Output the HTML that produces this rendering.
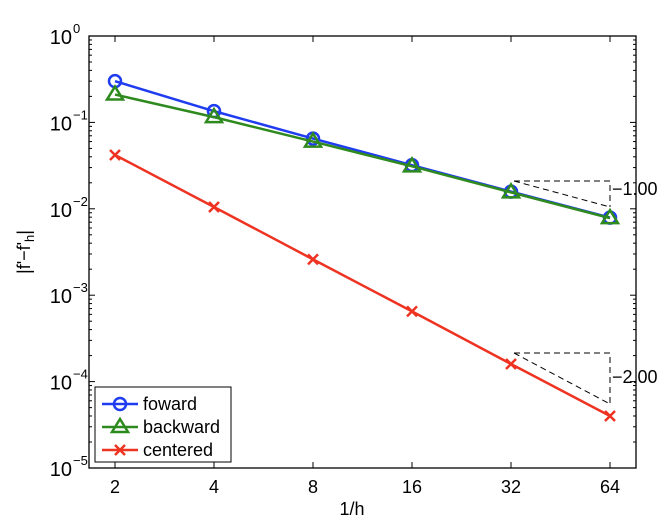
<!DOCTYPE html>
<html><head><meta charset="utf-8"><style>
body{margin:0;background:#fff}
svg{display:block;font-family:"Liberation Sans",Helvetica,sans-serif}
</style></head><body>
<svg id="s" width="670" height="528" viewBox="0 0 670 528" xmlns="http://www.w3.org/2000/svg"></svg>
<script>
const L=89,R=636,T=36,B=468,D=86.4;
const X=i=>115+i*99;
const Y=v=>T-Math.log10(v)*D;
let s='<rect x="0" y="0" width="670" height="528" fill="#fff"/>';
for(let e=0;e<5;e++){for(let m=2;m<10;m++){const y=T+(e+1)*D-Math.log10(m)*D;
s+=`<line x1="${L}" y1="${y}" x2="${L+3}" y2="${y}" stroke="#000"/><line x1="${R}" y1="${y}" x2="${R-3}" y2="${y}" stroke="#000"/>`;}}
for(let e=0;e<=5;e++){const y=T+e*D;
s+=`<line x1="${L}" y1="${y}" x2="${L+6}" y2="${y}" stroke="#000"/><line x1="${R}" y1="${y}" x2="${R-6}" y2="${y}" stroke="#000"/>`;
s+=`<text x="72" y="${y+8}" font-size="20" text-anchor="end">10</text><text x="73" y="${y-3}" font-size="13">${e==0?'0':'−'+e}</text>`;}
const xl=['2','4','8','16','32','64'];
for(let i=0;i<6;i++){const x=X(i);
s+=`<line x1="${x}" y1="${B}" x2="${x}" y2="${B-6}" stroke="#000"/><line x1="${x}" y1="${T}" x2="${x}" y2="${T+6}" stroke="#000"/>`;
s+=`<text x="${x}" y="493" font-size="18" text-anchor="middle">${xl[i]}</text>`;}
s+=`<rect x="${L}" y="${T}" width="${R-L}" height="${B-T}" fill="none" stroke="#000" stroke-width="1.3"/>`;
s+=`<text x="352" y="515" font-size="18" text-anchor="middle">1/h</text>`;
s+=`<text transform="translate(30,252) rotate(-90)" font-size="18" text-anchor="middle">|f'−f'<tspan font-size="13" dy="4">h</tspan><tspan dy="-4">|</tspan></text>`;
s+=`<g stroke="#000" stroke-dasharray="6,4" fill="none" stroke-width="1"><polyline points="514,181 610,181 610,207"/><line x1="514" y1="181" x2="610" y2="207"/><polyline points="514,353 610,353 610,404"/><line x1="514" y1="353" x2="610" y2="404"/></g>`;
s+=`<text x="612" y="195" font-size="18">−1.00</text><text x="612" y="383" font-size="18">−2.00</text>`;
const f=[0.3,0.135,0.065,0.032,0.0158,0.0079],b=[0.21,0.115,0.06,0.031,0.0155,0.0078],c=[0.042,0.0105,0.0026,0.00065,0.00016,0.00004];
const pl=(d,col)=>`<polyline points="${d.map((v,i)=>X(i)+','+Y(v)).join(' ')}" fill="none" stroke="${col}" stroke-width="2.5"/>`;
const circ=(x,y,col)=>`<circle cx="${x}" cy="${y}" r="6" fill="none" stroke="${col}" stroke-width="2.5"/>`;
const tri=(x,y,col)=>`<polygon points="${x},${y-8} ${x-8},${y+5} ${x+8},${y+5}" fill="none" stroke="${col}" stroke-width="2.5"/>`;
const cross=(x,y,col)=>`<path d="M${x-5},${y-5}L${x+5},${y+5}M${x-5},${y+5}L${x+5},${y-5}" stroke="${col}" stroke-width="2.5"/>`;
s+=pl(f,'#1f3cf0');f.forEach((v,i)=>s+=circ(X(i),Y(v),'#1f3cf0'));
s+=pl(b,'#2e8a1e');b.forEach((v,i)=>s+=tri(X(i),Y(v),'#2e8a1e'));
s+=pl(c,'#ee3322');c.forEach((v,i)=>s+=cross(X(i),Y(v),'#ee3322'));
s+=`<rect x="95" y="387" width="136" height="75" fill="#fff" stroke="#000"/>`;
const ent=[['foward','#1f3cf0',circ,404],['backward','#2e8a1e',tri,427],['centered','#ee3322',cross,450]];
ent.forEach(([t,col,fn,y])=>{s+=`<line x1="102" y1="${y}" x2="138" y2="${y}" stroke="${col}" stroke-width="2.5"/>`+fn(120,y,col)+`<text x="143" y="${y+6}" font-size="18">${t}</text>`;});
document.getElementById('s').innerHTML=s;
</script>
</body></html>
